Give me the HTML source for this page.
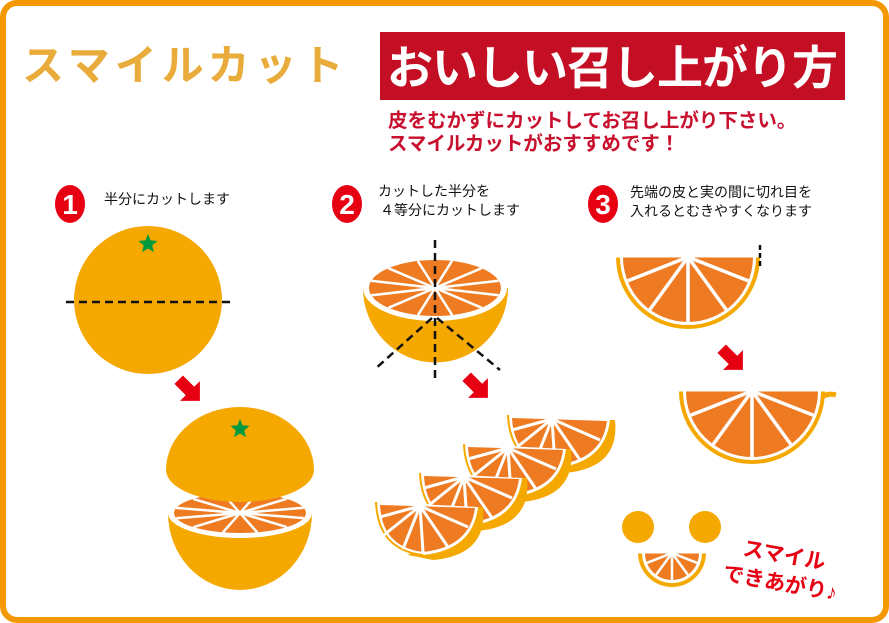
<!DOCTYPE html><html><head><meta charset="utf-8"><style>
html,body{margin:0;padding:0;background:#fff}
svg{display:block}
text{font-family:"Liberation Sans","Noto Sans CJK JP",sans-serif}
</style></head><body>
<svg id="s" width="889" height="623" viewBox="0 0 889 623" xmlns="http://www.w3.org/2000/svg">
<rect x="3" y="3" width="883" height="617" rx="14" fill="#fff" stroke="#f39800" stroke-width="6"/>
<text x="22" y="80" font-size="42" font-weight="bold" fill="#e9ab3a" font-family="'Noto Serif CJK SC','Noto Sans CJK JP',serif" letter-spacing="5">スマイルカット</text>
<rect x="380" y="32" width="465" height="68" fill="#c40e24"/>
<text x="612" y="84" font-size="46" font-weight="bold" fill="#fff" text-anchor="middle" font-family="'Noto Sans CJK JP',sans-serif" letter-spacing="-1">おいしい召し上がり方</text>
<text x="388" y="127" font-size="19.5" font-weight="bold" fill="#c8102e" font-family="'Noto Sans CJK JP',sans-serif">皮をむかずにカットしてお召し上がり下さい。</text>
<text x="388" y="150" font-size="19.5" font-weight="bold" fill="#c8102e" font-family="'Noto Sans CJK JP',sans-serif">スマイルカットがおすすめです！</text>
<g fill="#e60012"><ellipse cx="70" cy="204" rx="15" ry="19"/><ellipse cx="347" cy="204" rx="15" ry="19"/><ellipse cx="603" cy="204" rx="15" ry="19"/></g>
<g fill="#fff" font-size="28" font-weight="bold" text-anchor="middle"><text x="70" y="214">1</text><text x="347" y="214">2</text><text x="603" y="214">3</text></g>
<g font-size="14" fill="#111" font-family="'Noto Sans CJK JP',sans-serif">
<text x="104" y="204">半分にカットします</text>
<text x="378" y="196">カットした半分を</text><text x="380" y="215">４等分にカットします</text>
<text x="630" y="197">先端の皮と実の間に切れ目を</text><text x="630" y="216">入れるとむきやすくなります</text>
</g>
<g id="d"></g>
<text transform="translate(742,555) rotate(10)" font-size="21" font-weight="bold" fill="#e60012" font-family="'Noto Sans CJK JP',sans-serif">スマイル</text>
<text transform="translate(722,580) rotate(10)" font-size="21" font-weight="bold" fill="#e60012" font-family="'Noto Sans CJK JP',sans-serif">できあがり♪</text>
</svg>
<script>
var g=document.getElementById('d'),h='';
var Y='#f5a800',O='#ee7b22';
function arrow(x,y){h+='<g transform="translate('+x+','+y+') rotate(-45)"><polygon points="-6,-16 6,-16 6,0 14,0 0,14 -14,0 -6,0" fill="#e60012"/></g>';}
function star(x,y,r){var p=[];for(var i=0;i<10;i++){var a=-Math.PI/2+i*Math.PI/5,rr=i%2?r*0.45:r;p.push((x+rr*Math.cos(a)).toFixed(1)+','+(y+rr*Math.sin(a)).toFixed(1));}h+='<polygon points="'+p.join(' ')+'" fill="#009a3e"/>';}
function ln(cx,cy,x,y,w){h+='<line x1="'+cx+'" y1="'+cy+'" x2="'+x.toFixed(1)+'" y2="'+y.toFixed(1)+'" stroke="#fff" stroke-width="'+w+'"/>';}
function face(cx,cy,rx,ry){h+='<ellipse cx="'+cx+'" cy="'+cy+'" rx="'+rx+'" ry="'+ry+'" fill="#fff"/><ellipse cx="'+cx+'" cy="'+cy+'" rx="'+(rx-6)+'" ry="'+(ry-5)+'" fill="'+O+'"/>';for(var i=0;i<12;i++){var a=i*Math.PI/6+0.26;ln(cx,cy,cx+(rx-6)*Math.cos(a),cy+(ry-5)*Math.sin(a),2.5);}}
function semi(cx,cy,r){h+='<path d="M'+(cx-r)+','+cy+' A'+r+','+r+' 0 0 0 '+(cx+r)+','+cy+'Z" fill="'+Y+'"/>';var r2=r-4;h+='<path d="M'+(cx-r2)+','+cy+' A'+r2+','+r2+' 0 0 0 '+(cx+r2)+','+cy+'Z" fill="#fff"/>';var r3=r-7;h+='<path d="M'+(cx-r3)+','+cy+' A'+r3+','+r3+' 0 0 0 '+(cx+r3)+','+cy+'Z" fill="'+O+'"/>';[0.12,0.3,0.5,0.7,0.88].forEach(function(f){var a=f*Math.PI;ln(cx,cy,cx+r3*Math.cos(a),cy+r3*Math.sin(a),r>50?3.5:2.5);});h+='<line x1="'+(cx-r)+'" y1="'+cy+'" x2="'+(cx+r)+'" y2="'+cy+'" stroke="#fff" stroke-width="1"/>';}
// step1
h+='<circle cx="148" cy="300" r="74" fill="'+Y+'"/>';star(148,244,10);
h+='<line x1="66" y1="302" x2="232" y2="302" stroke="#111" stroke-width="2.5" stroke-dasharray="8,5"/>';
arrow(190,391);
h+='<path d="M168,513 A72,77 0 0 0 312,513Z" fill="'+Y+'"/>';face(240,513,72,25);
h+='<path d="M166,470 A74,63 0 0 1 314,470 A74,32 0 0 1 166,470Z" fill="'+Y+'"/>';star(240,429,10);
// step2
h+='<path d="M363,288 A72,74 0 0 0 508,288Z" fill="'+Y+'"/>';face(435,288,72,33);
h+='<g stroke="#111" stroke-width="2.5" stroke-dasharray="8,5"><line x1="435" y1="240" x2="435" y2="378"/><line x1="432" y1="318" x2="374" y2="370"/><line x1="437" y1="318" x2="500" y2="370"/></g>';
arrow(478,388);
for(var i=3;i>=0;i--){var cx=428+i*44,cy=505-i*29;
h+='<path d="M'+(cx+45)+','+(cy+2)+' L'+(cx+55)+','+(cy+2)+' Q'+(cx+60)+','+(cy+50)+' '+(cx+5)+','+(cy+55)+' L'+(cx-20)+','+(cy+50)+'Z" fill="'+Y+'"/>';
h+='<path d="M'+(cx-52)+','+(cy-3)+' L'+(cx+50)+','+(cy+2)+' Q'+(cx+45)+','+(cy+45)+' '+(cx-5)+','+(cy+50)+' Q'+(cx-50)+','+(cy+45)+' '+(cx-52)+','+(cy-3)+'Z" fill="#fff"/>';
h+='<path d="M'+(cx-48)+','+(cy)+' L'+(cx+47)+','+(cy+3)+' Q'+(cx+42)+','+(cy+42)+' '+(cx-5)+','+(cy+47)+' Q'+(cx-46)+','+(cy+42)+' '+(cx-48)+','+(cy)+'Z" fill="'+O+'"/>';
h+='<path d="M'+(cx-52)+','+(cy-3)+' Q'+(cx-50)+','+(cy+45)+' '+(cx-5)+','+(cy+50)+'" fill="none" stroke="'+Y+'" stroke-width="2"/>';
var ox=cx-8,oy=cy+1;[[-48,12],[-44,30],[-25,44],[-5,47],[20,42],[40,22]].forEach(function(p){ln(ox,oy,cx+p[0],cy+p[1],3);});}
// step3
semi(688,257,72);
h+='<line x1="760" y1="245" x2="760" y2="268" stroke="#111" stroke-width="2.5" stroke-dasharray="5,3"/>';
arrow(733,360);
h+='<path d="M818,400 Q826,392 836,395" fill="none" stroke="'+Y+'" stroke-width="5"/>';
semi(752,391,73);
// smile
h+='<circle cx="638" cy="527" r="16" fill="'+Y+'"/><circle cx="705" cy="527" r="16" fill="'+Y+'"/>';
semi(672,553,34);
g.innerHTML=h;
</script>
</body></html>
